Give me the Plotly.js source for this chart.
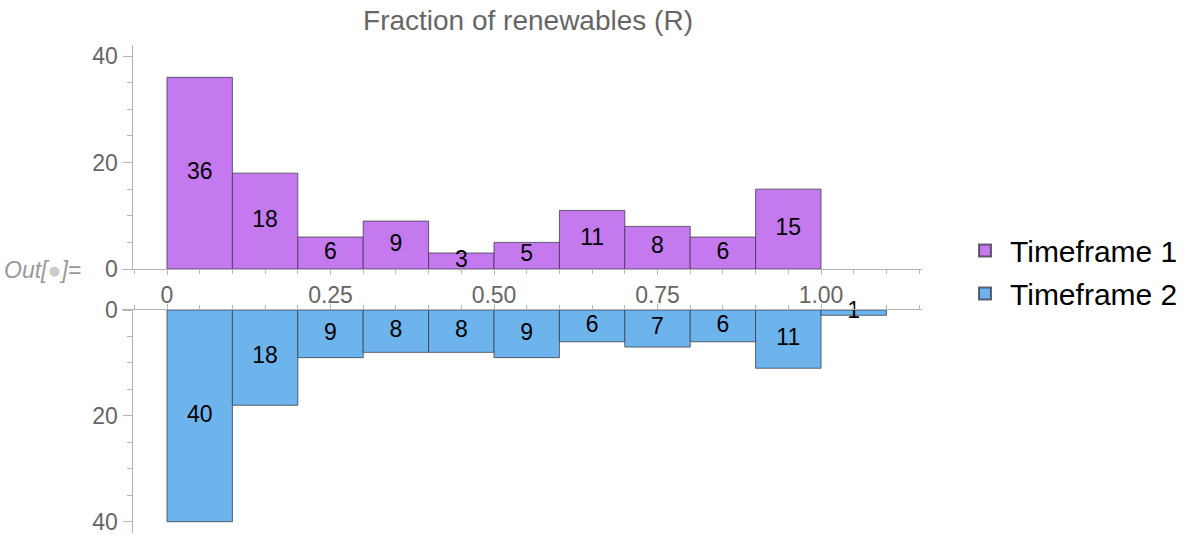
<!DOCTYPE html>
<html>
<head>
<meta charset="utf-8">
<script src="https://cdn.plot.ly/plotly-3.0.1.min.js"></script>
<style>html,body{margin:0;padding:0;background:#fff;}</style>
</head>
<body>
<div id="chart" style="width:1200px;height:549px;"></div>
<script>
// ---- data ----
const chartTitle = "Fraction of renewables (R)";
const seriesNames = ["Timeframe 1", "Timeframe 2"];
const binEdges1 = [0, 0.1, 0.2, 0.3, 0.4, 0.5, 0.6, 0.7, 0.8, 0.9, 1.0];
const counts1 = [36, 18, 6, 9, 3, 5, 11, 8, 6, 15];
const binEdges2 = [0, 0.1, 0.2, 0.3, 0.4, 0.5, 0.6, 0.7, 0.8, 0.9, 1.0, 1.1];
const counts2 = [40, 18, 9, 8, 8, 9, 6, 7, 6, 11, 1];
const xTickVals = [0, 0.25, 0.5, 0.75, 1.0];
const xTickText = ["0", "0.25", "0.50", "0.75", "1.00"];
const yTickVals = [0, 20, 40];

// ---- styling ----
const FONT = "Liberation Sans, Arial, Helvetica, sans-serif";
const purple = "#C479EF";
const blue = "#6DB4EC";
const edge = "rgba(55,55,70,0.75)";
const axisCol = "#b5b5b5";
const tickFont = {family: FONT, size: 23, color: "#666666"};

function centers(edges) { return edges.slice(0, -1).map((e, i) => (e + edges[i + 1]) / 2); }
function widths(edges) { return edges.slice(0, -1).map((e, i) => edges[i + 1] - e); }

const c1 = centers(binEdges1), w1 = widths(binEdges1);
const c2 = centers(binEdges2), w2 = widths(binEdges2);
const labelFont = {family: FONT, size: 23, color: "#000"};

const traces = [
  {type: "bar", x: c1, y: counts1, width: w1, xaxis: "x", yaxis: "y",
   marker: {color: purple, line: {color: edge, width: 1}}, showlegend: false, hoverinfo: "skip"},
  {type: "bar", x: c2, y: counts2, width: w2, xaxis: "x2", yaxis: "y2",
   marker: {color: blue, line: {color: edge, width: 1}}, showlegend: false, hoverinfo: "skip"},
  {type: "scatter", mode: "text", x: c1, y: counts1.map(v => v / 2), text: counts1.map(String),
   xaxis: "x", yaxis: "y", textfont: labelFont, cliponaxis: false,
   textposition: "middle center", showlegend: false, hoverinfo: "skip"},
  {type: "scatter", mode: "text", x: c2, y: counts2.map(v => v / 2), text: counts2.map(String),
   xaxis: "x2", yaxis: "y2", textfont: labelFont, cliponaxis: false,
   textposition: "middle center", showlegend: false, hoverinfo: "skip"},
  {type: "scatter", mode: "markers", x: [null], y: [null], name: seriesNames[0], legendgroup: "a",
   marker: {symbol: "square", size: 16, color: purple, line: {color: edge, width: 1}}, xaxis: "x", yaxis: "y"},
  {type: "scatter", mode: "markers", x: [null], y: [null], name: seriesNames[1], legendgroup: "b",
   marker: {symbol: "square", size: 16, color: blue, line: {color: edge, width: 1}}, xaxis: "x", yaxis: "y"}
];

const xDomain = [122 / 1200, 922 / 1200];
const xRange = [-0.0688, 1.1544];
const yPos = 131.5 / 1200;

const commonX = {
  domain: xDomain, range: xRange, showline: true, linecolor: axisCol, linewidth: 1,
  ticks: "outside", ticklen: 5, tickcolor: axisCol, tickwidth: 1,
  tickmode: "array", tickvals: xTickVals, ticktext: xTickText,
  tickfont: tickFont, showgrid: false, zeroline: false, fixedrange: true,
  minor: {tickmode: "linear", tick0: 0, dtick: 0.05, ticks: "outside", ticklen: 4, tickcolor: axisCol, showgrid: false}
};
const commonY = {
  anchor: "free", position: yPos, showline: true, linecolor: axisCol, linewidth: 1,
  ticks: "outside", ticklen: 9, tickcolor: axisCol, tickwidth: 1,
  tickmode: "array", tickvals: yTickVals, tickfont: tickFont,
  showgrid: false, zeroline: false, fixedrange: true,
  minor: {tickmode: "linear", tick0: 0, dtick: 5, ticks: "outside", ticklen: 5, tickcolor: axisCol, showgrid: false}
};

const layout = {
  width: 1200, height: 549,
  margin: {l: 0, r: 0, t: 0, b: 0},
  paper_bgcolor: "#ffffff", plot_bgcolor: "rgba(0,0,0,0)",
  bargap: 0,
  title: {text: chartTitle, x: 528 / 1200, xanchor: "center", xref: "paper", y: 1 - 20 / 549, yanchor: "middle",
          font: {family: FONT, size: 28, color: "#666666"}},
  xaxis: Object.assign({}, commonX, {anchor: "y", side: "bottom"}),
  xaxis2: Object.assign({}, commonX, {anchor: "y2", side: "top", showticklabels: false}),
  yaxis: Object.assign({}, commonY, {domain: [1 - 269 / 549, 1 - 45 / 549], range: [0, 42.07]}),
  yaxis2: Object.assign({}, commonY, {domain: [1 - 533 / 549, 1 - 310 / 549], range: [42.13, 0]}),
  showlegend: true,
  legend: {x: 960 / 1200, xanchor: "left", y: 1 - 272 / 549, yanchor: "middle",
           font: {family: FONT, size: 30, color: "#000"}, itemwidth: 40,
           itemsizing: "constant", tracegroupgap: 1, bgcolor: "rgba(0,0,0,0)"},
  annotations: [
    {text: "Out[<span style='color:#cccccc'>●</span>]=", xref: "paper", yref: "paper",
     x: 2 / 1200, xanchor: "left", y: 1 - 270 / 549, yanchor: "middle", showarrow: false,
     font: {family: FONT, size: 23, color: "#999999", style: "italic"}}
  ]
};

Plotly.newPlot("chart", traces, layout, {staticPlot: true, displayModeBar: false});
</script>
</body>
</html>
